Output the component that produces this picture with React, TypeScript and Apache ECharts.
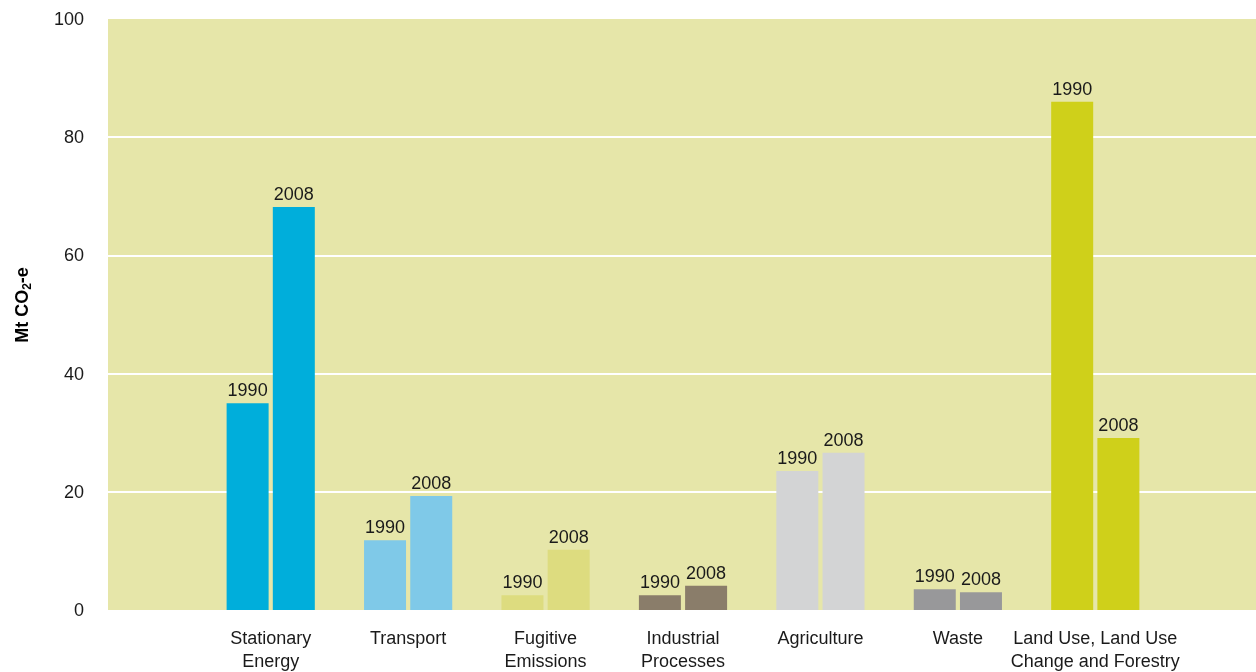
import React, { useEffect, useRef } from "react";
import * as echarts from "echarts";

const categories = [
  "Stationary\nEnergy",
  "Transport",
  "Fugitive\nEmissions",
  "Industrial\nProcesses",
  "Agriculture",
  "Waste",
  "Land Use, Land Use\nChange and Forestry",
];
const values1990 = [35.0, 11.8, 2.5, 2.5, 23.5, 3.5, 86.0];
const values2008 = [68.2, 19.3, 10.2, 4.1, 26.6, 3.0, 29.1];
const categoryColors = ["#00AEDB", "#7FC9E8", "#DDDC7F", "#8A7D6A", "#D3D4D5", "#98989A", "#CFD01A"];
const yTicks = { min: 0, max: 100, interval: 20 };

const FONT = "'Liberation Sans', Arial, sans-serif";

export default function App() {
  const ref = useRef<HTMLDivElement>(null);
  useEffect(() => {
    if (!ref.current) return;
    const chart = echarts.init(ref.current, undefined, { renderer: "svg" });
    const mk = (vals: number[], label: string) =>
      vals.map((v, i) => ({ value: v, itemStyle: { color: categoryColors[i] }, label: { formatter: label } }));
    chart.setOption({
      animation: false,
      textStyle: { fontFamily: FONT },
      grid: [
        { left: 108, right: 0, top: 19, bottom: 62, show: true, backgroundColor: "#E6E6A9", borderWidth: 0, outerBoundsMode: "none", containLabel: false },
        { left: 202, width: 962, top: 19, bottom: 62, outerBoundsMode: "none", containLabel: false },
      ],
      xAxis: [
        { type: "category", gridIndex: 0, data: [], show: false },
        {
          type: "category",
          gridIndex: 1,
          data: categories,
          axisLine: { show: false },
          axisTick: { show: false },
          axisLabel: { fontSize: 18, lineHeight: 23, color: "#1a1a1a", margin: 16, interval: 0, fontFamily: FONT },
        },
      ],
      yAxis: [
        {
          type: "value",
          gridIndex: 0,
          min: yTicks.min,
          max: yTicks.max,
          interval: yTicks.interval,
          axisLine: { show: false },
          axisTick: { show: false },
          axisLabel: { fontSize: 18, color: "#1a1a1a", margin: 24, fontFamily: FONT },
          splitLine: { show: true, showMinLine: false, showMaxLine: false, lineStyle: { color: "#ffffff", width: 2 } },
        },
        { type: "value", gridIndex: 1, min: yTicks.min, max: yTicks.max, interval: yTicks.interval, show: false, splitLine: { show: false } },
      ],
      series: [
        {
          type: "bar",
          name: "1990",
          xAxisIndex: 1,
          yAxisIndex: 1,
          barWidth: 42,
          barGap: "10%",
          data: mk(values1990, "1990"),
          label: { show: true, position: "top", distance: 4, fontSize: 18, color: "#1a1a1a", fontFamily: FONT },
        },
        {
          type: "bar",
          name: "2008",
          xAxisIndex: 1,
          yAxisIndex: 1,
          barWidth: 42,
          barGap: "10%",
          data: mk(values2008, "2008"),
          label: { show: true, position: "top", distance: 4, fontSize: 18, color: "#1a1a1a", fontFamily: FONT },
        },
      ],
      graphic: [
        {
          type: "text",
          x: 22,
          y: 305,
          rotation: Math.PI / 2,
          style: {
            text: "Mt CO{s|2}-e",
            fontSize: 18,
            fontWeight: "bold",
            fontFamily: FONT,
            fill: "#000",
            align: "center",
            verticalAlign: "middle",
            lineHeight: 22,
            rich: {
              s: { fontSize: 12, fontWeight: "bold", fontFamily: FONT, fill: "#000", verticalAlign: "bottom" },
            },
          },
        },
      ],
    });
    return () => chart.dispose();
  }, []);
  return <div ref={ref} style={{ position: "fixed", left: 0, top: 0, width: 1256, height: 672 }} />;
}
